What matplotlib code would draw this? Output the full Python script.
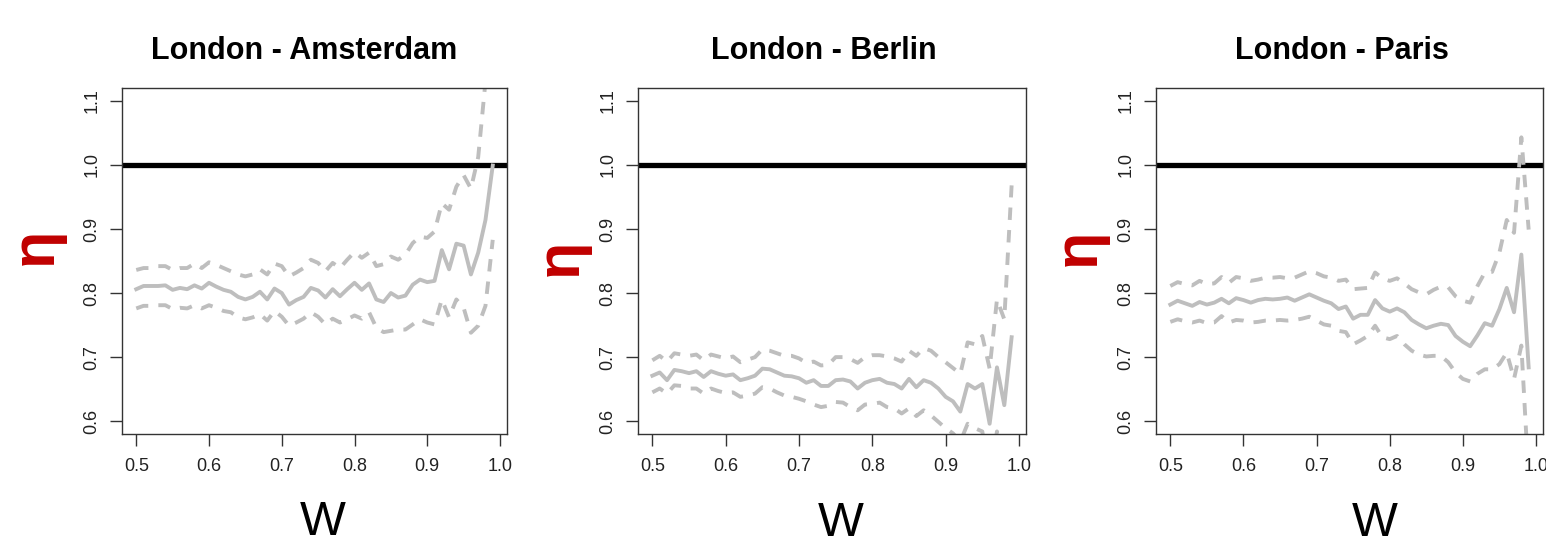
import matplotlib
matplotlib.use('Agg')
import matplotlib.pyplot as plt
import numpy as np

plt.rcParams['font.family'] = ['Liberation Sans', 'DejaVu Sans']

w = [0.50, 0.51, 0.52, 0.53, 0.54, 0.55, 0.56, 0.57, 0.58, 0.59,
     0.60, 0.61, 0.62, 0.63, 0.64, 0.65, 0.66, 0.67, 0.68, 0.69,
     0.70, 0.71, 0.72, 0.73, 0.74, 0.75, 0.76, 0.77, 0.78, 0.79,
     0.80, 0.81, 0.82, 0.83, 0.84, 0.85, 0.86, 0.87, 0.88, 0.89,
     0.90, 0.91, 0.92, 0.93, 0.94, 0.95, 0.96, 0.97, 0.98, 0.99]

titles = ["London - Amsterdam", "London - Berlin", "London - Paris"]

# London - Amsterdam
ams_mid = [0.806, 0.811, 0.811, 0.811, 0.812, 0.805, 0.808, 0.806, 0.812, 0.807,
           0.816, 0.810, 0.805, 0.802, 0.794, 0.790, 0.794, 0.802, 0.790, 0.807,
           0.800, 0.782, 0.789, 0.794, 0.808, 0.804, 0.793, 0.806, 0.795, 0.806,
           0.816, 0.805, 0.815, 0.790, 0.786, 0.800, 0.793, 0.796, 0.813, 0.821,
           0.817, 0.819, 0.867, 0.837, 0.877, 0.874, 0.829, 0.863, 0.914, 0.999]
ams_up = [0.836, 0.839, 0.839, 0.842, 0.842, 0.836, 0.839, 0.839, 0.846, 0.839,
          0.848, 0.844, 0.839, 0.834, 0.829, 0.826, 0.829, 0.837, 0.829, 0.846,
          0.842, 0.826, 0.832, 0.839, 0.852, 0.847, 0.834, 0.847, 0.839, 0.852,
          0.864, 0.855, 0.863, 0.842, 0.845, 0.857, 0.852, 0.860, 0.878, 0.888,
          0.886, 0.896, 0.940, 0.930, 0.966, 0.984, 0.963, 1.012, 1.130, 1.350]
ams_lo = [0.776, 0.780, 0.780, 0.781, 0.781, 0.775, 0.777, 0.776, 0.781, 0.776,
          0.781, 0.777, 0.772, 0.770, 0.762, 0.759, 0.762, 0.767, 0.757, 0.772,
          0.763, 0.749, 0.754, 0.760, 0.770, 0.763, 0.751, 0.760, 0.754, 0.759,
          0.765, 0.760, 0.770, 0.746, 0.739, 0.741, 0.743, 0.743, 0.751, 0.759,
          0.754, 0.751, 0.790, 0.762, 0.790, 0.777, 0.738, 0.749, 0.780, 0.883]

# London - Berlin
ber_mid = [0.671, 0.676, 0.664, 0.680, 0.678, 0.675, 0.678, 0.669, 0.678, 0.674,
           0.671, 0.673, 0.664, 0.667, 0.671, 0.682, 0.681, 0.676, 0.671, 0.670,
           0.667, 0.660, 0.664, 0.655, 0.655, 0.664, 0.665, 0.662, 0.651, 0.660,
           0.664, 0.666, 0.660, 0.658, 0.651, 0.666, 0.653, 0.664, 0.660, 0.651,
           0.638, 0.631, 0.615, 0.658, 0.651, 0.658, 0.596, 0.684, 0.625, 0.731]
ber_up = [0.695, 0.702, 0.693, 0.706, 0.704, 0.702, 0.704, 0.695, 0.704, 0.701,
          0.698, 0.701, 0.692, 0.696, 0.700, 0.712, 0.710, 0.706, 0.702, 0.702,
          0.698, 0.691, 0.693, 0.687, 0.688, 0.700, 0.700, 0.697, 0.691, 0.700,
          0.703, 0.703, 0.701, 0.698, 0.693, 0.710, 0.702, 0.714, 0.710, 0.700,
          0.692, 0.683, 0.674, 0.723, 0.720, 0.733, 0.682, 0.790, 0.759, 0.968]
ber_lo = [0.645, 0.651, 0.643, 0.656, 0.655, 0.651, 0.651, 0.643, 0.651, 0.647,
          0.644, 0.645, 0.638, 0.640, 0.643, 0.653, 0.651, 0.645, 0.640, 0.638,
          0.635, 0.631, 0.626, 0.622, 0.624, 0.630, 0.629, 0.622, 0.617, 0.626,
          0.627, 0.629, 0.622, 0.620, 0.612, 0.620, 0.608, 0.617, 0.609, 0.599,
          0.589, 0.581, 0.568, 0.596, 0.589, 0.584, 0.510, 0.584, 0.520, 0.560]

# London - Paris
par_mid = [0.782, 0.788, 0.784, 0.780, 0.786, 0.782, 0.785, 0.791, 0.784, 0.792,
           0.789, 0.785, 0.789, 0.791, 0.790, 0.791, 0.793, 0.788, 0.793, 0.798,
           0.793, 0.788, 0.784, 0.775, 0.779, 0.760, 0.766, 0.766, 0.789, 0.776,
           0.771, 0.776, 0.770, 0.758, 0.751, 0.745, 0.749, 0.752, 0.750, 0.733,
           0.724, 0.717, 0.734, 0.753, 0.749, 0.775, 0.808, 0.770, 0.860, 0.684]
par_up = [0.811, 0.817, 0.814, 0.812, 0.819, 0.814, 0.815, 0.825, 0.816, 0.825,
          0.823, 0.819, 0.821, 0.824, 0.824, 0.825, 0.823, 0.824, 0.829, 0.834,
          0.831, 0.826, 0.824, 0.819, 0.821, 0.806, 0.807, 0.808, 0.832, 0.823,
          0.819, 0.823, 0.815, 0.806, 0.801, 0.798, 0.805, 0.810, 0.809, 0.795,
          0.788, 0.785, 0.811, 0.832, 0.833, 0.863, 0.914, 0.894, 1.043, 0.899]
par_lo = [0.755, 0.759, 0.756, 0.754, 0.757, 0.753, 0.754, 0.764, 0.754, 0.758,
          0.757, 0.754, 0.755, 0.757, 0.757, 0.758, 0.757, 0.758, 0.760, 0.763,
          0.757, 0.751, 0.749, 0.741, 0.739, 0.720, 0.726, 0.733, 0.749, 0.731,
          0.728, 0.733, 0.720, 0.710, 0.704, 0.701, 0.702, 0.702, 0.692, 0.676,
          0.666, 0.662, 0.674, 0.681, 0.681, 0.689, 0.707, 0.666, 0.718, 0.510]

series = [(ams_mid, ams_up, ams_lo), (ber_mid, ber_up, ber_lo), (par_mid, par_up, par_lo)]

W, H = 1546, 547
fig = plt.figure(figsize=(W / 100, H / 100), dpi=100)

# axes boxes in pixels: left, top, right, bottom
boxes = [(122, 88, 507, 434), (638, 88, 1026, 434), (1156, 88, 1543, 434)]
title_x = [304, 824, 1342]
eta_pos = [(36, 246), (561, 257), (1079, 247)]
# bottom of the W text box (incl. descent), kept inside the figure
w_pos = [(323, 545), (841, 546), (1375, 546)]

grey = '#bebebe'
for i in range(3):
    l, t, r, b = boxes[i]
    ax = fig.add_axes([l / W, 1 - b / H, (r - l) / W, (b - t) / H])
    mid, up, lo = series[i]
    ax.axhline(1.0, color='k', lw=3.8, zorder=1)
    ax.plot(w, mid, color=grey, lw=2.8, zorder=2)
    ax.plot(w, up, color=grey, lw=2.8, ls=(0, (3.2, 2.6)), zorder=2)
    ax.plot(w, lo, color=grey, lw=2.8, ls=(0, (3.2, 2.6)), zorder=2)
    ax.set_xlim(0.4804, 1.0096)
    ax.set_ylim(0.58, 1.12)
    ax.set_xticks([0.5, 0.6, 0.7, 0.8, 0.9, 1.0])
    ax.set_xticklabels(['0.5', '0.6', '0.7', '0.8', '0.9', '1.0'])
    ax.set_yticks([0.6, 0.7, 0.8, 0.9, 1.0, 1.1])
    ax.set_yticklabels(['0.6', '0.7', '0.8', '0.9', '1.0', '1.1'], rotation=90, va='center')
    ax.tick_params(length=8.6, width=1.0, color='#333333', labelsize=13,
                   labelcolor='#222222')
    ax.tick_params(axis='x', pad=9)
    ax.tick_params(axis='y', pad=7)
    for s in ax.spines.values():
        s.set_color('#333333')
        s.set_linewidth(1.0)

    fig.text(title_x[i] / W, 1 - 59 / H, titles[i], ha='center', va='baseline',
             fontsize=22, fontweight='bold')
    ex, ey = eta_pos[i]
    fig.text(ex / W, 1 - ey / H, 'η', rotation=90, ha='center', va='center',
             fontsize=44, fontweight='bold', color='#c00000')
    wx, wy = w_pos[i]
    fig.text(wx / W, 1 - wy / H, 'W', ha='center', va='bottom', fontsize=35)

fig.savefig('out.png', dpi=100)
